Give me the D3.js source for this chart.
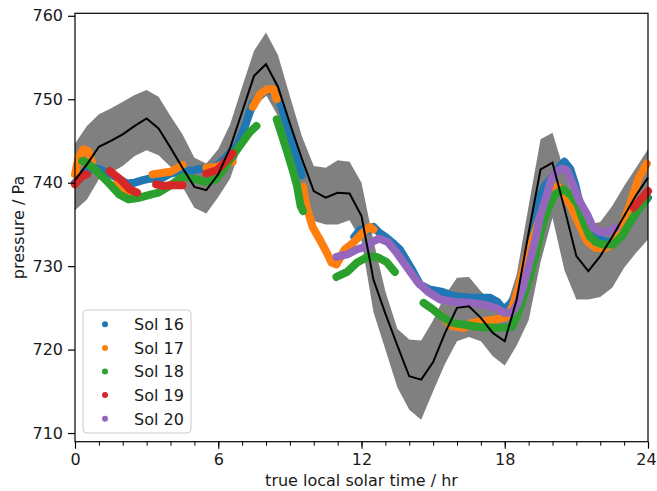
<!DOCTYPE html>
<html><head><meta charset="utf-8">
<script src="https://cdn.jsdelivr.net/npm/d3@7"></script>
<style>
html,body{margin:0;padding:0;background:#fff;}
text{font-family:"DejaVu Sans",sans-serif;fill:#1a1a1a;}
</style></head>
<body><svg id="c" width="657" height="491"></svg>
<script>
// ---- data ----
const hours = [0,0.5,1,1.5,2,2.5,3,3.5,4,4.5,5,5.5,6,6.5,7,7.5,8,8.5,9,9.5,10,10.5,11,11.5,12,12.5,13,13.5,14,14.5,15,15.5,16,16.5,17,17.5,18,18.5,19,19.5,20,20.5,21,21.5,22,22.5,23,23.5,24];
const meanP = [740.3,742.2,744.3,745.0,745.8,746.8,747.7,746.5,744.2,741.8,739.5,739.1,741.0,744.2,748.5,752.8,754.2,751.5,747.1,742.9,739.0,738.2,738.8,738.7,736.0,728.4,724.3,720.5,716.8,716.4,718.5,722.0,725.0,725.2,723.8,722.0,721.0,726.0,734.0,741.6,742.4,736.9,731.2,729.4,731.2,733.5,736.0,738.5,740.6];
const upperP = [744.7,746.8,748.2,748.9,749.7,750.5,751.1,750.3,748.0,745.8,743.0,742.3,744.0,747.0,751.5,755.8,758.0,755.3,750.4,745.6,742.0,741.8,742.7,742.5,740.0,733.0,727.0,722.5,721.2,721.1,723.5,726.5,728.6,728.7,727.0,725.5,724.5,729.0,737.2,745.2,746.0,741.3,737.0,735.0,735.3,737.2,739.6,741.8,744.0];
const lowerP = [736.7,738.0,740.4,741.2,742.0,743.2,743.9,743.3,741.9,739.5,737.0,736.3,738.3,740.5,744.8,749.0,750.5,748.0,743.5,739.0,735.4,735.0,735.0,735.5,733.0,724.5,720.0,715.5,712.8,711.6,715.0,718.3,721.0,721.5,721.0,719.2,718.1,720.5,723.5,730.5,735.8,729.5,726.0,726.0,726.3,727.4,729.8,731.6,733.2];

const sol16 = [[0.0,740.0],[0.4,741.0],[0.75,741.8],[1.05,741.6],[1.5,741.0],[1.9,740.3],[2.2,739.9],[2.5,740.0],[2.85,740.3],[3.15,740.5],[3.55,740.4],[4.0,741.1],[4.4,741.3],[5.0,741.5],[5.5,741.8],[5.95,742.0],[6.35,743.1],[6.8,744.5],[7.1,746.6],[7.45,749.5],[7.7,750.3],[8.0,751.0],[8.25,751.0],[8.5,750.2],[8.75,748.2],[9.0,745.8],[9.25,743.4],[9.5,740.9],null,
 [11.7,733.5],[11.95,734.4],[12.25,734.2],[12.5,734.7],[12.75,734.0],[13.05,733.4],[13.3,732.8],[13.6,732.0],[14.05,729.9],[14.45,727.8],[14.85,727.2],[15.4,726.9],[15.9,726.4],[16.55,726.2],[17.0,726.2],[17.4,726.2],[17.7,725.7],[17.95,724.8],[18.2,725.4],[18.45,726.3],[18.65,727.5],[18.85,729.6],[19.05,731.6],[19.25,735.0],[19.45,738.0],[19.65,739.5],[20.0,740.7],[20.3,741.9],[20.5,742.5],[20.75,741.6],[20.95,739.8],[21.15,737.4],[21.45,735.6],[21.7,734.1],[22.0,733.2],[22.4,732.8],[22.85,733.5],[23.25,735.3],[23.65,737.0],[24.0,738.2]];
const sol17 = [[0.0,741.0],[0.15,743.0],[0.35,744.0],[0.55,743.8],[0.7,742.5],null,
 [1.7,739.8],[2.0,739.2],[2.4,738.7],null,
 [3.25,741.0],[3.7,741.2],[4.0,741.3],[4.3,741.8],[4.5,742.1],null,
 [5.5,741.8],[5.95,741.9],[6.35,742.4],[6.6,742.5],null,
 [7.45,749.1],[7.75,750.6],[8.05,751.2],[8.3,751.2],[8.45,750.0],null,
 [9.55,739.5],[9.7,737.1],[9.95,734.7],[10.25,733.2],[10.55,731.6],[10.75,730.4],[10.95,730.2],[11.3,732.0],[11.65,732.8],[12.05,734.0],[12.35,734.7],[12.5,734.4],null,
 [15.3,724.2],[15.8,722.8],[16.3,722.6],[16.6,723.2],[17.1,723.4],[17.6,723.6],[18.05,723.9],[18.3,725.0],[18.6,727.5],[18.9,731.0],[19.2,733.5],[19.5,736.0],[19.75,738.0],[20.0,739.3],[20.2,739.6],[20.45,739.0],[20.8,737.0],[21.15,734.8],[21.45,733.0],[21.8,732.2],[22.15,732.1],[22.5,732.6],[22.8,734.0],[23.2,737.0],[23.6,740.5],[23.95,742.3]];
const sol18 = [[0.3,742.6],[0.5,742.4],[0.9,741.4],[1.4,740.0],[1.85,738.6],[2.25,738.0],[2.7,738.2],[3.2,738.6],[3.5,738.8],[3.9,739.5],[4.5,740.7],[5.1,740.4],[5.5,740.1],[5.9,740.4],[6.2,741.5],[6.5,742.8],[6.9,744.4],[7.3,746.0],[7.6,746.8],null,
 [8.45,747.6],[8.9,743.6],[9.15,741.2],[9.3,739.6],[9.45,737.2],[9.55,736.6],null,
 [10.95,728.7],[11.4,729.3],[11.8,730.4],[12.25,731.1],[12.65,731.1],[13.05,730.5],[13.4,729.3],null,
 [14.6,725.6],[15.0,724.8],[15.4,723.9],[15.8,723.2],[16.25,723.0],[16.95,722.7],[17.8,722.6],[18.3,722.7],[18.5,723.9],[18.75,726.0],[19.05,728.7],[19.35,732.0],[19.55,734.6],[19.8,736.8],[20.1,738.6],[20.45,739.2],[20.75,738.6],[21.05,737.4],[21.3,735.3],[21.55,733.6],[21.8,732.9],[22.1,732.6],[22.55,732.6],[22.9,733.6],[23.25,735.3],[23.6,736.8],[23.95,738.2]];
const sol19 = [[0.0,739.8],[0.25,740.7],[0.5,741.0],null,
 [1.45,741.4],[1.9,740.4],[2.3,739.2],[2.6,738.8],null,
 [3.4,739.8],[3.7,739.6],[4.0,739.7],[4.5,739.7],null,
 [5.5,741.1],[5.95,741.5],[6.35,742.7],[6.6,743.5],null,
 [23.4,737.0],[23.7,738.0],[24.0,739.0]];
const sol20 = [[10.95,731.1],[11.4,731.4],[11.8,732.0],[12.25,732.4],[12.5,733.0],[12.75,733.3],[13.1,732.9],[13.45,731.7],[13.75,730.5],[14.05,729.3],[14.35,728.1],[14.8,726.9],[15.3,726.0],[15.9,725.7],[16.55,725.6],[17.1,725.4],[17.6,725.0],[18.0,724.4],[18.3,724.4],[18.55,725.6],[18.8,727.8],[19.05,730.5],[19.3,733.4],[19.5,736.2],[19.75,738.4],[19.95,740.4],[20.15,741.3],[20.4,741.7],[20.6,741.5],[20.85,739.8],[21.15,737.7],[21.45,736.2],[21.7,734.6],[22.0,734.1],[22.35,734.1],[22.65,734.6]];

const solNames = ["Sol 16","Sol 17","Sol 18","Sol 19","Sol 20"];
const solColors = ["#1f77b4","#ff7f0e","#2ca02c","#d62728","#9467bd"];
const xTicks = [0,6,12,18,24];
const yTicks = [710,720,730,740,750,760];
const xLabel = "true local solar time / hr";
const yLabel = "pressure / Pa";

// ---- drawing ----
const svg = d3.select("#c");
const L = 75, R = 648, T = 13.3, B = 441.7;
const x = d3.scaleLinear().domain([0,24]).range([L,R]);
const y = d3.scaleLinear().domain([708.96,760.3]).range([B,T]);

const band = hours.map((h,i)=>({h, lo: lowerP[i], hi: upperP[i]}));
svg.append("path").datum(band)
  .attr("d", d3.area().x(d=>x(d.h)).y0(d=>y(d.lo)).y1(d=>y(d.hi)))
  .attr("fill","#808080");

const sols = [sol16, sol17, sol18, sol19, sol20];
const line = d3.line().defined(d=>d!==null).x(d=>x(d[0])).y(d=>y(d[1])).curve(d3.curveLinear);
sols.forEach((s,i)=>{
  svg.append("path").datum(s).attr("d", line)
    .attr("fill","none").attr("stroke", solColors[i])
    .attr("stroke-width", 8).attr("stroke-linecap","round").attr("stroke-linejoin","round");
});

svg.append("path").datum(hours.map((h,i)=>[h, meanP[i]]))
  .attr("d", d3.line().x(d=>x(d[0])).y(d=>y(d[1])))
  .attr("fill","none").attr("stroke","#000").attr("stroke-width",2);

// axes
const fs = 16;
const gx = svg.append("g").attr("transform",`translate(0,${B})`)
  .call(d3.axisBottom(x).tickValues(d3.range(0,25,1)).tickSize(4).tickFormat(""));
gx.select(".domain").remove();
gx.selectAll("line").attr("stroke","#000").attr("stroke-width",1);
const gx2 = svg.append("g").attr("transform",`translate(0,${B})`)
  .call(d3.axisBottom(x).tickValues(xTicks).tickSize(7).tickPadding(5).tickFormat(d3.format("d")));
gx2.select(".domain").remove();
gx2.selectAll("line").attr("stroke","#000").attr("stroke-width",1.2);
gx2.selectAll("text").attr("font-size",fs).attr("font-family","DejaVu Sans").attr("fill","#1a1a1a")
  .attr("dx", d => d === 24 ? -2 : 0);

const gy = svg.append("g").attr("transform",`translate(${L},0)`)
  .call(d3.axisLeft(y).tickValues(yTicks).tickSize(7).tickPadding(5).tickFormat(d3.format("d")));
gy.select(".domain").remove();
gy.selectAll("line").attr("stroke","#000").attr("stroke-width",1.2);
gy.selectAll("text").attr("font-size",fs).attr("font-family","DejaVu Sans").attr("fill","#1a1a1a");

svg.append("rect").attr("x",L).attr("y",T).attr("width",R-L).attr("height",B-T)
  .attr("fill","none").attr("stroke","#000").attr("stroke-width",1.2);

svg.append("text").attr("x",(L+R)/2).attr("y",486).attr("text-anchor","middle")
  .attr("font-size",fs).text(xLabel);
svg.append("text").attr("transform",`translate(24,${(T+B)/2}) rotate(-90)`)
  .attr("text-anchor","middle").attr("font-size",fs).text(yLabel);

// legend
const lg = svg.append("g");
lg.append("rect").attr("x",83).attr("y",310).attr("width",108).attr("height",123).attr("rx",4)
  .attr("fill","#fff").attr("fill-opacity",0.8).attr("stroke","#cccccc").attr("stroke-width",1);
solNames.forEach((n,i)=>{
  const cy = 324.3 + i*23.6;
  lg.append("circle").attr("cx",105).attr("cy",cy).attr("r",3).attr("fill",solColors[i]);
  lg.append("text").attr("x",134).attr("y",cy+5.8).attr("font-size",fs).text(n);
});
</script></body></html>
